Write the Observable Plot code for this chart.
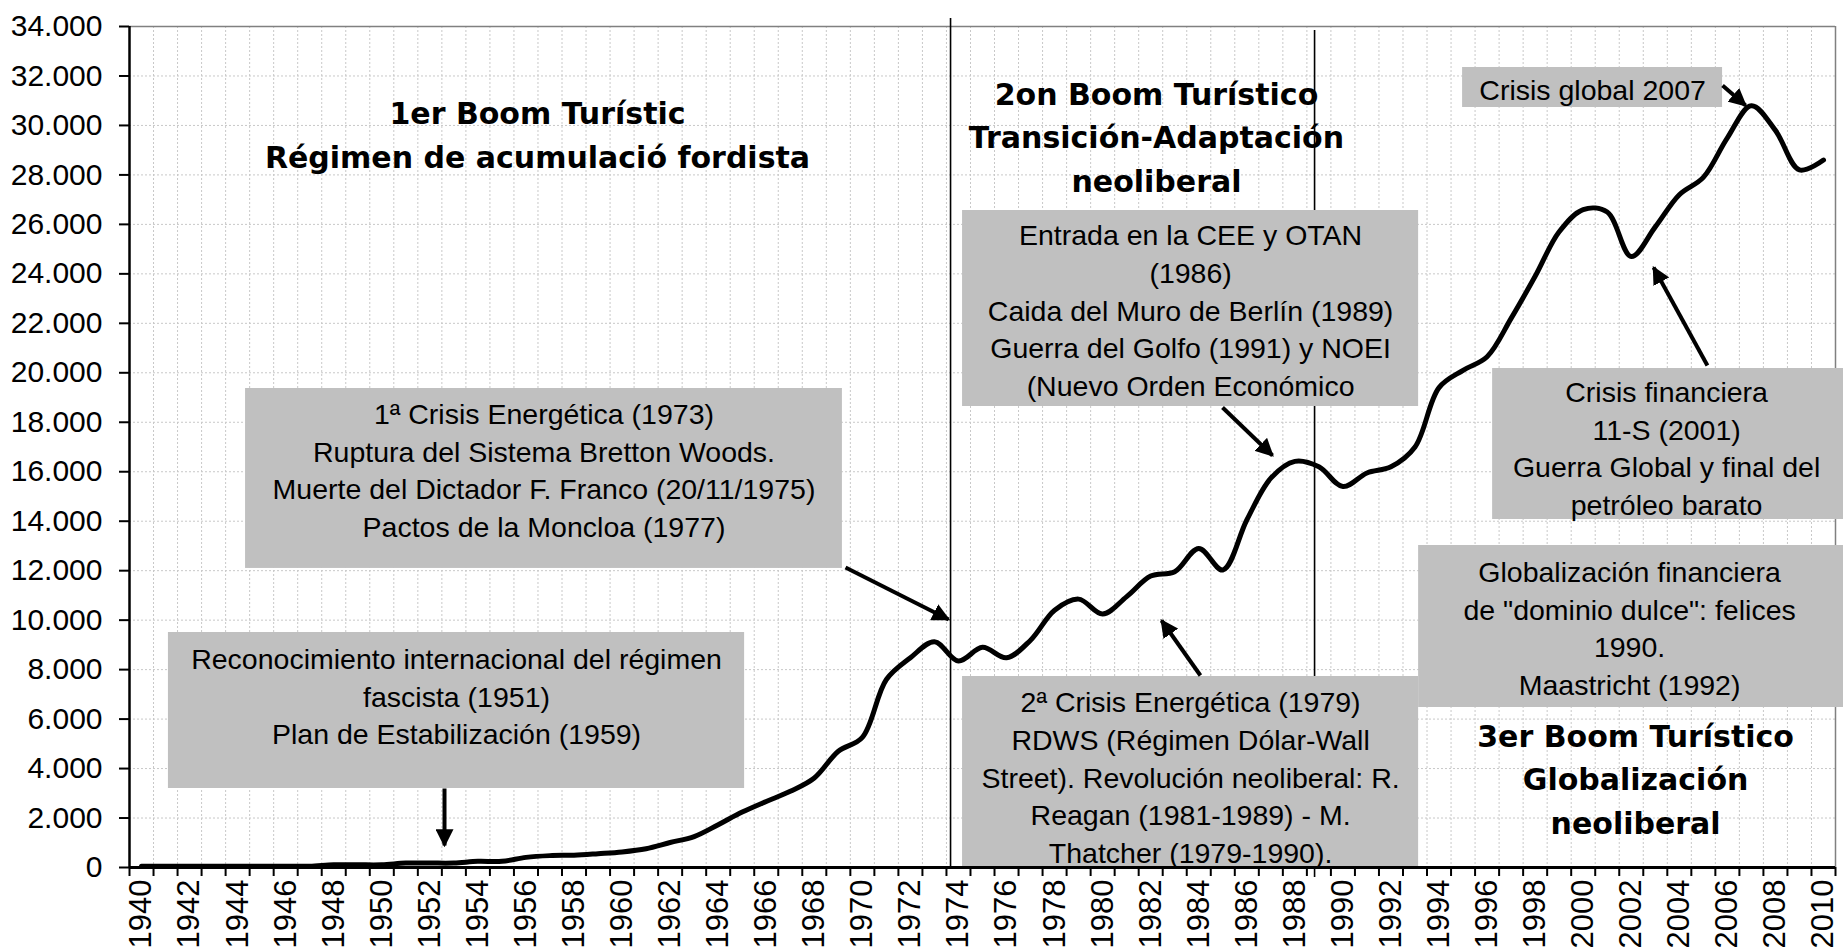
<!DOCTYPE html>
<html>
<head>
<meta charset="utf-8">
<script src="https://cdn.jsdelivr.net/npm/d3@7"></script>
<script src="https://cdn.jsdelivr.net/npm/@observablehq/plot@0.6"></script>
<style>
  html, body { margin: 0; padding: 0; background: #fff; }
  svg { display: block; }
</style>
</head>
<body>
<div id="chart"></div>
<script>
// ---------- DATA ----------
const years = [1940,1941,1942,1943,1944,1945,1946,1947,1948,1949,
  1950,1951,1952,1953,1954,1955,1956,1957,1958,1959,
  1960,1961,1962,1963,1964,1965,1966,1967,1968,1969,
  1970,1971,1972,1973,1974,1975,1976,1977,1978,1979,
  1980,1981,1982,1983,1984,1985,1986,1987,1988,1989,
  1990,1991,1992,1993,1994,1995,1996,1997,1998,1999,
  2000,2001,2002,2003,2004,2005,2006,2007,2008,2009,2010];
const visitors = [50,50,50,50,50,50,50,50,110,110,
  110,180,180,180,250,250,410,480,500,560,
  630,760,1010,1250,1730,2240,2670,3080,3620,4700,
  5260,7600,8480,9130,8350,8900,8480,9190,10400,10850,
  10250,10950,11780,11960,12900,12030,14050,15740,16420,16200,
  15400,15950,16200,17000,19400,20100,20650,22200,23900,25700,
  26600,26500,24700,25900,27200,27900,29500,30800,29800,28200,28600];
const yTicks = [0,2000,4000,6000,8000,10000,12000,14000,16000,18000,20000,22000,24000,26000,28000,30000,32000,34000];
const xLabelYears = [1940,1942,1944,1946,1948,1950,1952,1954,1956,1958,1960,1962,1964,1966,1968,1970,1972,1974,1976,1978,1980,1982,1984,1986,1988,1990,1992,1994,1996,1998,2000,2002,2004,2006,2008,2010];

// period titles
const titleText = [
  "1er Boom Turístic\nRégimen de acumulació fordista",
  "2on Boom Turístico\nTransición-Adaptación\nneoliberal",
  "3er Boom Turístico\nGlobalización\nneoliberal"
];
const titleYear = [1956.48, 1982.24, 2002.18];
const titleValue = [29735, 29634, 3679];

// annotation boxes
const noteText = [
  "1ª Crisis Energética (1973)\nRuptura del Sistema Bretton Woods.\nMuerte del Dictador F. Franco (20/11/1975)\nPactos de la Moncloa (1977)",
  "Reconocimiento internacional del régimen\nfascista (1951)\nPlan de Estabilización (1959)",
  "Entrada en la CEE y OTAN\n(1986)\nCaida del Muro de Berlín (1989)\nGuerra del Golfo (1991) y NOEI\n(Nuevo Orden Económico",
  "2ª Crisis Energética (1979)\nRDWS (Régimen Dólar-Wall\nStreet). Revolución neoliberal: R.\nReagan (1981-1989) - M.\nThatcher (1979-1990).",
  "Crisis global 2007",
  "Crisis financiera\n11-S (2001)\nGuerra Global y final del\npetróleo barato",
  "Globalización financiera\nde \"dominio dulce\": felices\n1990.\nMaastricht (1992)"
];
const noteYear1 = [1944.33, 1941.12, 1974.17, 1974.17, 1994.98, 1996.23, 1993.15];
const noteYear2 = [1969.17, 1965.10, 1993.15, 1993.15, 2005.80, 2010.98, 2010.98];
const noteValue1 = [12090, 3194, 18637, 0, 30725, 14069, 6468];
const noteValue2 = [19365, 9501, 26561, 7722, 32342, 20174, 13018];
const noteTextYear = [1956.75, 1953.11, 1983.66, 1983.66, 2000.39, 2003.47, 2001.93];
const noteTextValue = [16131, 6994, 22599, 3719, 31534, 17020, 9743];

// arrows (from box to event)
const arrowYear1 = [1952.61, 1969.30, 1984.99, 1984.07, 2005.80, 2005.17];
const arrowValue1 = [3194, 12128, 18597, 7762, 31615, 20295];
const arrowYear2 = [1952.61, 1973.59, 1987.07, 1982.45, 2006.76, 2002.93];
const arrowValue2 = [889, 10026, 16656, 9986, 30806, 24257];

// period dividers
const dividerYear = [1973.67, 1988.82];
const dividerValue1 = [0, -400];
const dividerValue2 = [34323, 33838];

// ---------- BUILD ----------
const series = years.map((y, i) => ({year: y, value: visitors[i]}));
const titles = titleText.map((t, i) => ({text: t, x: titleYear[i], y: titleValue[i]}));
const notes = noteText.map((t, i) => ({text: t, x1: noteYear1[i], x2: noteYear2[i], y1: noteValue1[i], y2: noteValue2[i], tx: noteTextYear[i], ty: noteTextValue[i]}));
const arrows = arrowYear1.map((d, i) => ({x1: d, y1: arrowValue1[i], x2: arrowYear2[i], y2: arrowValue2[i]}));
const dividers = dividerYear.map((d, i) => ({x: d, y1: dividerValue1[i], y2: dividerValue2[i]}));

const yearBounds = d3.range(years[0] - 0.5, years[years.length - 1] + 1, 1);
const innerBounds = yearBounds.slice(1, -1);

const locale = d3.formatLocale({decimal: ",", thousands: ".", grouping: [3], currency: ["", ""]});
const fmt = locale.format(",");

function filledArrow(color, context) {
  const m = d3.create("svg:marker")
    .attr("viewBox", "-9 -5 10 10")
    .attr("markerWidth", 4.5)
    .attr("markerHeight", 4.5)
    .attr("orient", "auto")
    .attr("fill", color)
    .attr("stroke", "none");
  m.append("path").attr("d", "M-9,-5L1,0L-9,5Z");
  return m.node();
}

const chart = Plot.plot({
  width: 1843,
  height: 952,
  marginLeft: 129,
  marginRight: 8,
  marginTop: 26,
  marginBottom: 85,
  style: {fontFamily: "'Liberation Sans', Arial, sans-serif", fontSize: "29px", background: "#fff", color: "#000"},
  x: {domain: [yearBounds[0], yearBounds[yearBounds.length - 1]], axis: null},
  y: {domain: [0, 34000], axis: null},
  marks: [
    // grid
    Plot.ruleY(yTicks.slice(1, -1), {stroke: "#c8c8c8", strokeWidth: 1, strokeDasharray: "2,2"}),
    Plot.ruleX(innerBounds, {stroke: "#c8c8c8", strokeWidth: 1, strokeDasharray: "2,2"}),
    // frame top/right
    Plot.ruleY([34000], {stroke: "#808080", strokeWidth: 1.5}),
    Plot.ruleX([yearBounds[yearBounds.length - 1]], {stroke: "#808080", strokeWidth: 1.5}),
    // dividers
    Plot.ruleX(dividers, {x: "x", y1: "y1", y2: "y2", stroke: "#000", strokeWidth: 1.6}),
    // boxes
    Plot.rect(notes, {x1: "x1", x2: "x2", y1: "y1", y2: "y2", fill: "#c0c0c0"}),
    Plot.text(notes, {x: "tx", y: "ty", text: "text", fill: "#000", fontSize: 28.5, lineHeight: 1.32, textAnchor: "middle", lineAnchor: "middle", fontFamily: "'Liberation Sans', Arial, sans-serif"}),
    // titles
    Plot.text(titles, {x: "x", y: "y", text: "text", fill: "#000", fontSize: 30, fontWeight: "bold", lineHeight: 1.45, textAnchor: "middle", lineAnchor: "middle", fontFamily: "'DejaVu Sans', sans-serif"}),
    // series
    Plot.line(series, {x: "year", y: "value", curve: "catmull-rom", stroke: "#000", strokeWidth: 5, strokeLinejoin: "round"}),
    // arrows
    Plot.link(arrows, {x1: "x1", y1: "y1", x2: "x2", y2: "y2", stroke: "#000", strokeWidth: 4, markerEnd: filledArrow}),
    // axes
    Plot.axisY(yTicks, {tickSize: 10, tickPadding: 17, tickFormat: d => fmt(d), fontSize: 30, strokeWidth: 2, label: null}),
    Plot.axisX(yearBounds, {tickSize: 9, tickFormat: () => "", strokeWidth: 2, label: null}),
    Plot.axisX(xLabelYears, {tickSize: 0, tickPadding: 12, tickRotate: -90, tickFormat: d => String(d), fontSize: 31, label: null}),
    Plot.ruleY([0], {stroke: "#000", strokeWidth: 3}),
    Plot.ruleX([yearBounds[0]], {stroke: "#000", strokeWidth: 2.5})
  ]
});
document.getElementById("chart").appendChild(chart);
</script>
</body>
</html>
